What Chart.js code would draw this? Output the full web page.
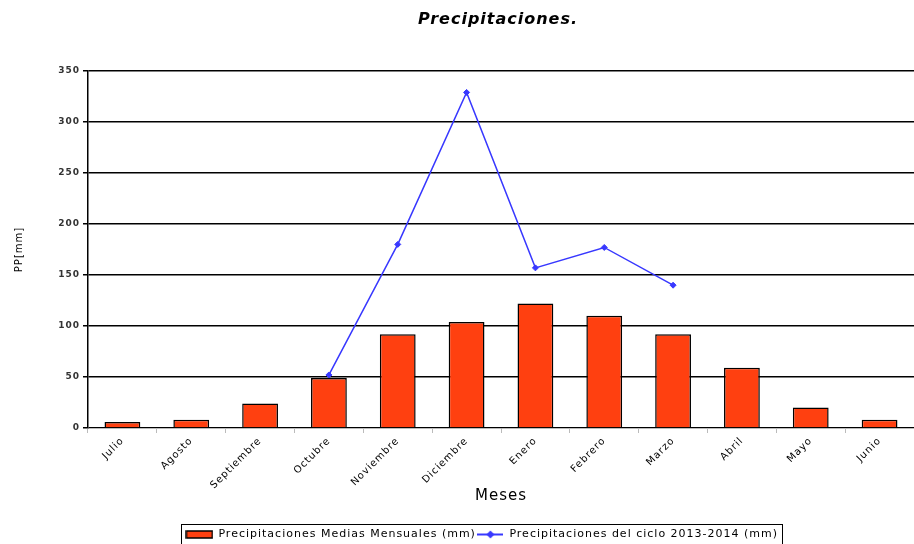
<!DOCTYPE html>
<html>
<head>
<meta charset="utf-8">
<script src="https://cdn.jsdelivr.net/npm/chart.js@4/dist/chart.umd.min.js"></script>
<style>
html,body{margin:0;padding:0;background:#fff;}
#wrap{width:914px;height:544px;position:relative;}
</style>
</head>
<body>
<div id="wrap"><canvas id="c" width="914" height="544"></canvas></div>
<script>
const months = ['Julio','Agosto','Septiembre','Octubre','Noviembre','Diciembre','Enero','Febrero','Marzo','Abril','Mayo','Junio'];
const mediasMensuales = [6, 8, 24, 49, 92, 104, 122, 110, 92, 59, 20, 8];
const ciclo2013 = [null, null, null, 52, 180, 329, 157, 177, 140, null, null, null];
const yTicks = [0, 50, 100, 150, 200, 250, 300, 350];
const chartTitle = 'Precipitaciones.';

const BAR_COLOR = '#ff4010';
const LINE_COLOR = '#3838ff';

function makeBarIcon() {
  const c = document.createElement('canvas');
  c.width = 28; c.height = 9;
  const g = c.getContext('2d');
  g.fillStyle = BAR_COLOR; g.fillRect(1, 1, 26, 7);
  g.strokeStyle = '#000'; g.lineWidth = 1.5; g.strokeRect(1, 1, 26, 7);
  return c;
}
function makeLineIcon() {
  const c = document.createElement('canvas');
  c.width = 26; c.height = 9;
  const g = c.getContext('2d');
  g.strokeStyle = LINE_COLOR; g.lineWidth = 2;
  g.beginPath(); g.moveTo(0, 4.5); g.lineTo(26, 4.5); g.stroke();
  g.fillStyle = LINE_COLOR;
  g.beginPath(); g.moveTo(13, 0.5); g.lineTo(17, 4.5); g.lineTo(13, 8.5); g.lineTo(9, 4.5); g.closePath(); g.fill();
  return c;
}
const barIcon = makeBarIcon();
const lineIcon = makeLineIcon();

const spacing = {
  id: 'spacing',
  beforeUpdate(chart) { chart.ctx.letterSpacing = '1px'; },
  beforeDraw(chart) { chart.ctx.letterSpacing = '1px'; }
};

const LEGEND_SHIFT_X = 21;
const LEGEND_SHIFT_Y = 6;
const legendShift = {
  id: 'legendShift',
  afterLayout(chart) {
    const l = chart.legend;
    if (!l) return;
    l.left += LEGEND_SHIFT_X; l.right += LEGEND_SHIFT_X;
    l.top += LEGEND_SHIFT_Y; l.bottom += LEGEND_SHIFT_Y;
  }
};

const titlePlugin = {
  id: 'plotTitle',
  afterDraw(chart) {
    const ca = chart.chartArea;
    const ctx = chart.ctx;
    ctx.save();
    ctx.letterSpacing = '1px';
    ctx.fillStyle = '#000';
    ctx.font = 'italic bold 16px "DejaVu Sans"';
    ctx.textAlign = 'center';
    ctx.textBaseline = 'middle';
    ctx.fillText(chartTitle, (ca.left + ca.right) / 2 - 3, 20);
    ctx.restore();
  }
};

const legendBox = {
  id: 'legendBox',
  afterDraw(chart) {
    const l = chart.legend;
    if (!l || !l.legendHitBoxes || !l.legendHitBoxes.length) return;
    const hb = l.legendHitBoxes;
    const w = Math.max(...hb.map(h => h.left + h.width)) - Math.min(...hb.map(h => h.left));
    const cx = (l.left + l.right) / 2;
    const x0 = cx - w / 2 - 5;
    const x1 = cx + w / 2 + 4;
    const y0 = l.top - 4;
    const ctx = chart.ctx;
    ctx.save();
    ctx.strokeStyle = '#000';
    ctx.lineWidth = 1;
    ctx.strokeRect(Math.round(x0) + 0.5, Math.round(y0) + 0.5, Math.round(x1 - x0), chart.height + 5 - Math.round(y0));
    ctx.restore();
  }
};

new Chart(document.getElementById('c'), {
  type: 'bar',
  data: {
    labels: months,
    datasets: [
      {
        type: 'bar',
        label: 'Precipitaciones Medias Mensuales (mm)',
        data: mediasMensuales,
        backgroundColor: BAR_COLOR,
        borderColor: '#000',
        borderWidth: 1.5,
        categoryPercentage: 1,
        barPercentage: 0.52,
        order: 2
      },
      {
        type: 'line',
        label: 'Precipitaciones del ciclo 2013-2014 (mm)',
        data: ciclo2013,
        borderColor: LINE_COLOR,
        backgroundColor: LINE_COLOR,
        borderWidth: 1.5,
        pointStyle: 'rectRot',
        pointRadius: (c) => (c.raw == null ? 0 : 3),
        pointBorderWidth: (c) => (c.raw == null ? 0 : 1),
        pointHoverRadius: 0,
        pointHitRadius: 0,
        tension: 0,
        spanGaps: false,
        order: 1
      }
    ]
  },
  options: {
    responsive: false,
    animation: false,
    events: [],
    layout: { padding: { left: 8, right: 0, top: 71, bottom: 0 } },
    plugins: {
      title: { display: false },
      legend: {
        position: 'bottom',
        labels: {
          color: '#000',
          font: { family: 'DejaVu Sans', size: 11 },
          padding: 1,
          usePointStyle: true,
          boxHeight: 9,
          generateLabels(chart) {
            const items = Chart.defaults.plugins.legend.labels.generateLabels(chart);
            items.sort((a, b) => a.datasetIndex - b.datasetIndex);
            items.forEach(it => {
              it.pointStyle = it.datasetIndex === 0 ? barIcon : lineIcon;
            });
            return items;
          },
          pointStyleWidth: 27
        }
      },
      tooltip: { enabled: false }
    },
    scales: {
      x: {
        afterFit(scale) { scale.paddingRight = 0; scale.height = 94; },
        grid: { display: true, drawOnChartArea: false, drawTicks: true, tickLength: 5, color: '#bbb' },
        border: { color: '#bbb', width: 1 },
        ticks: {
          color: '#000',
          font: { family: 'DejaVu Sans', size: 10 },
          maxRotation: 45, minRotation: 45,
          padding: 2
        },
        title: {
          display: true, text: 'Meses', color: '#000',
          font: { family: 'DejaVu Sans', size: 15 },
          padding: { top: 0, bottom: 17 }
        }
      },
      y: {
        min: 0, max: 350,
        afterBuildTicks(scale) { scale.ticks = yTicks.map(v => ({ value: v })); },
        afterFit(scale) { scale.width = 80; },
        grid: { color: '#000', lineWidth: 1.5, drawTicks: true, tickLength: 5 },
        border: { color: '#000', width: 1.5 },
        ticks: {
          color: '#333',
          font: { family: 'DejaVu Sans', size: 9, weight: 'bold' },
          padding: 3
        },
        title: {
          display: true, text: 'PP[mm]', color: '#000',
          font: { family: 'DejaVu Sans', size: 10 },
          padding: { top: 5, bottom: 0 }
        }
      }
    }
  },
  plugins: [spacing, legendShift, titlePlugin, legendBox]
});
</script>
</body>
</html>
